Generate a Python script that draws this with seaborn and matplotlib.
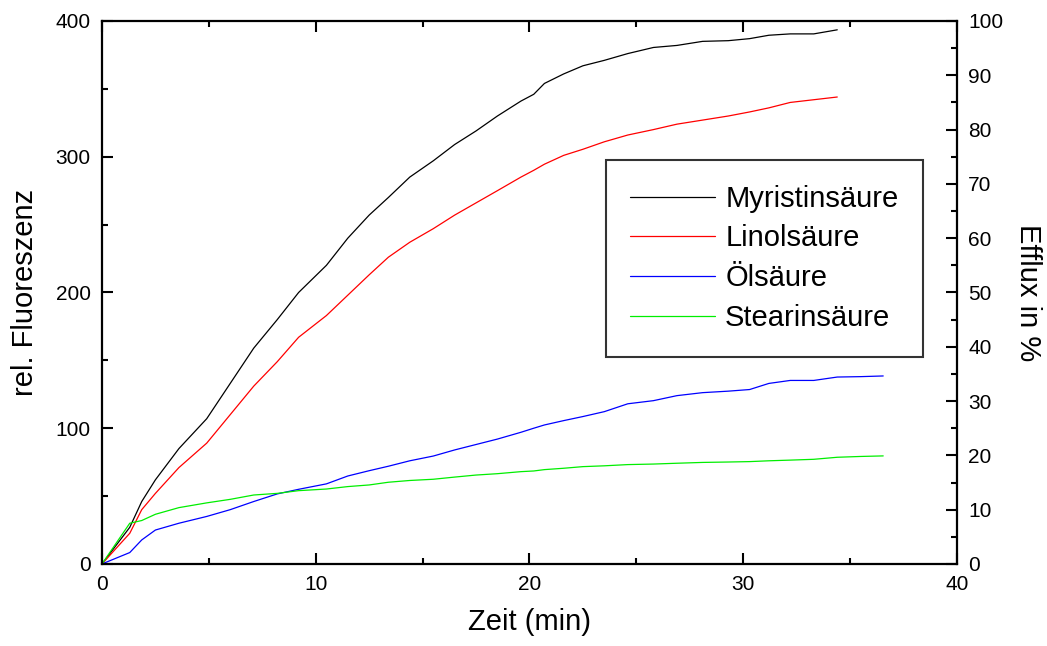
import numpy as np
import pandas as pd
import matplotlib
matplotlib.use("Agg")
import matplotlib.pyplot as plt
from matplotlib.ticker import MultipleLocator
import seaborn as sns

# ---- data ----
time_min = [0, 1.3, 1.86, 2.5, 3.6, 4.9, 6.0, 7.1, 8.2, 9.2, 10.5, 11.5, 12.5, 13.4,
            14.4, 15.5, 16.5, 17.5, 18.5, 19.6, 20.2, 20.7, 21.6, 22.5, 23.5, 24.6,
            25.8, 26.9, 28.1, 29.3, 30.3, 31.2, 32.2, 33.3, 34.4, 35.5, 36.55]

myristin = [0, 27, 46, 62, 85, 107, 133, 159, 180, 200, 220, 240, 257, 270, 285, 297,
            309, 319, 330, 341, 346, 354, 361, 367, 371, 376, 380.5, 382, 385, 385.5,
            387, 389.5, 390.5, 390.5, 393.5]
linol = [0, 22.6, 40, 52, 71, 89, 110, 131, 149, 167, 183, 198, 213, 226, 237, 247,
         257, 266, 275, 285, 290, 294.5, 301, 305.5, 311, 316, 320, 324, 327, 330,
         333, 336, 340, 342, 344]
oel = [0, 8.4, 17.7, 25, 30, 35, 40, 46, 51.6, 55, 59, 64.8, 68.7, 72, 76, 79.5, 84,
       88, 92, 97, 100, 102.4, 105.6, 108.6, 112.2, 118, 120.3, 124, 126.2, 127.3,
       128.5, 133, 135.2, 135.2, 137.7, 138, 138.5]
stearin = [0, 30, 32, 36.6, 41.5, 45, 47.6, 50.8, 52, 54, 55.2, 57, 58.2, 60.2, 61.5,
           62.4, 64, 65.5, 66.5, 68, 68.5, 69.5, 70.5, 71.7, 72.3, 73.2, 73.6, 74.2,
           74.8, 75.1, 75.4, 76, 76.5, 77.1, 78.6, 79.2, 79.6]

series_names = ["Myristinsäure", "Linolsäure", "Ölsäure", "Stearinsäure"]
series_values = [myristin, linol, oel, stearin]
series_colors = ["#000000", "#ff0000", "#0000ff", "#00ee00"]

x_label = "Zeit (min)"
y_label = "rel. Fluoreszenz"
y2_label = "Efflux in %"

# ---- long-form table ----
rows = []
for name, vals in zip(series_names, series_values):
    for t, v in zip(time_min, vals):
        rows.append({"Zeit": t, "Wert": v, "Serie": name})
df = pd.DataFrame(rows)

sns.set_style("white")
plt.rcParams["font.family"] = ["Liberation Sans", "DejaVu Sans"]
plt.rcParams["text.color"] = "black"
plt.rcParams["axes.labelcolor"] = "black"
plt.rcParams["xtick.color"] = "black"
plt.rcParams["ytick.color"] = "black"

fig = plt.figure(figsize=(10.47, 6.46), dpi=100)
ax = fig.add_axes([0.0974, 0.127, 0.8166, 0.8405])

sns.lineplot(data=df, x="Zeit", y="Wert", hue="Serie", hue_order=series_names,
             palette=dict(zip(series_names, series_colors)), linewidth=0.9,
             sort=False, estimator=None, ax=ax)

ax.set_xlim(0, 40)
ax.set_ylim(0, 400)
ax.xaxis.set_major_locator(MultipleLocator(10))
ax.xaxis.set_minor_locator(MultipleLocator(5))
ax.yaxis.set_major_locator(MultipleLocator(100))
ax.yaxis.set_minor_locator(MultipleLocator(50))
ax.set_xlabel(x_label, fontsize=21, labelpad=10)
ax.set_ylabel(y_label, fontsize=21, labelpad=12)

for s in ax.spines.values():
    s.set_linewidth(1.6)
    s.set_color("black")

ax.tick_params(axis="both", which="both", direction="in", colors="black",
               labelsize=15, width=1.5)
ax.tick_params(axis="x", which="major", length=8, top=True, bottom=True, pad=8)
ax.tick_params(axis="x", which="minor", length=4.5, top=True, bottom=True)
ax.tick_params(axis="y", which="major", length=8, left=True, right=False, pad=8)
ax.tick_params(axis="y", which="minor", length=4.5, left=True, right=False)

ax2 = ax.twinx()
ax2.set_ylim(0, 100)
ax2.yaxis.set_major_locator(MultipleLocator(10))
ax2.yaxis.set_minor_locator(MultipleLocator(5))
ax2.tick_params(axis="y", which="both", direction="in", colors="black",
                labelsize=15, width=1.5, pad=8)
ax2.tick_params(axis="y", which="major", length=8)
ax2.tick_params(axis="y", which="minor", length=4.5)
ax2.set_ylabel(y2_label, fontsize=21, rotation=270, labelpad=28)
for s in ax2.spines.values():
    s.set_visible(False)

leg = ax.legend(loc="upper left", bbox_to_anchor=(0.589, 0.744), fontsize=21,
                frameon=True, fancybox=False, edgecolor="black",
                handlelength=2.9, handletextpad=0.35, labelspacing=0.4,
                borderpad=0.85, borderaxespad=0)
leg.get_frame().set_linewidth(1.5)
for txt in leg.get_texts():
    txt.set_color("black")

fig.savefig("out.png", dpi=100, facecolor="white")
